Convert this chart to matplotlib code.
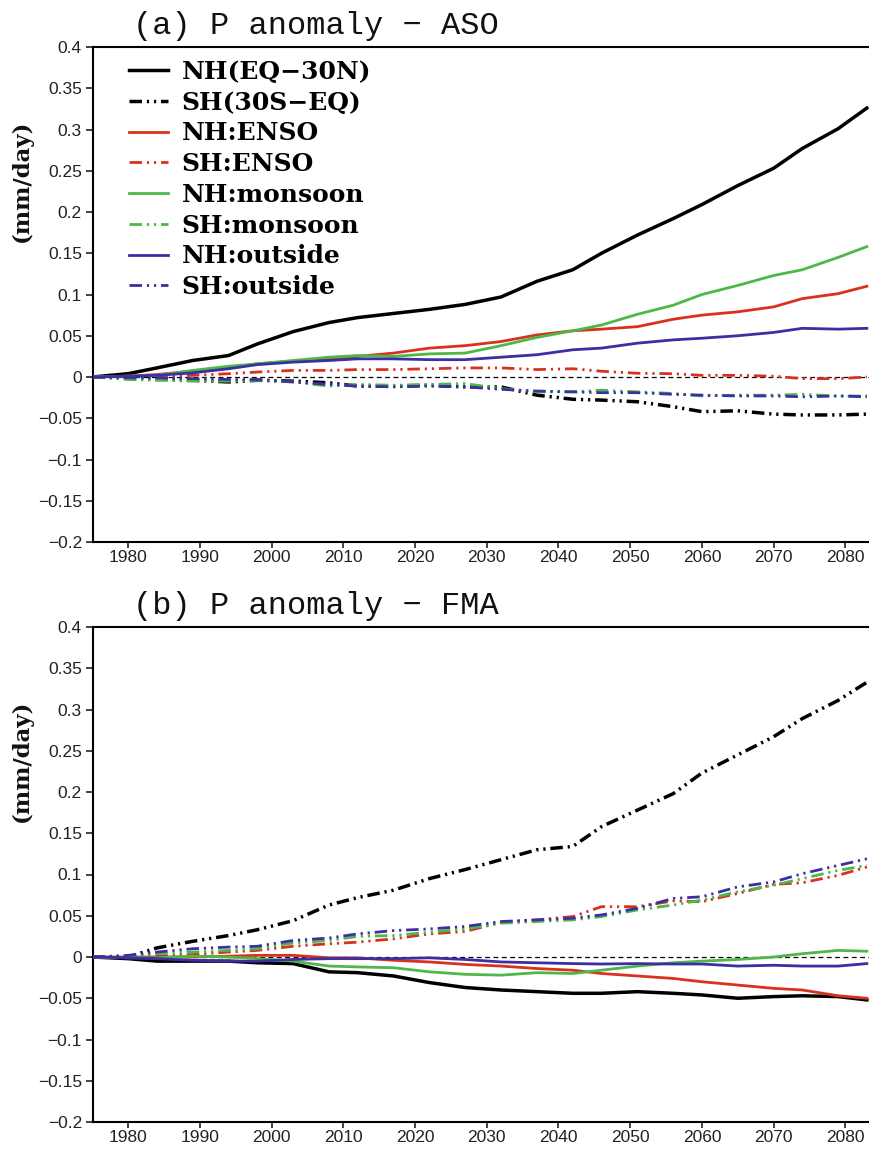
import matplotlib
matplotlib.use("Agg")
import matplotlib.pyplot as plt

plt.rcParams['lines.scale_dashes'] = False

# ---------------- data ----------------
years = [1975, 1980, 1984, 1989, 1994, 1998, 2003, 2008, 2012, 2017, 2022, 2027,
         2032, 2037, 2042, 2046, 2051, 2056, 2060, 2065, 2070, 2074, 2079, 2083]

# panel (a) ASO
a_nh_all   = [0, 0.004, 0.011, 0.020, 0.026, 0.040, 0.055, 0.066, 0.072, 0.077, 0.082, 0.088,
              0.097, 0.116, 0.130, 0.150, 0.172, 0.192, 0.209, 0.232, 0.253, 0.277, 0.301, 0.326]
a_sh_all   = [0, -0.001, -0.002, -0.004, -0.006, -0.004, -0.005, -0.007, -0.011, -0.011, -0.010, -0.012,
              -0.012, -0.022, -0.027, -0.028, -0.030, -0.036, -0.042, -0.041, -0.045, -0.046, -0.046, -0.045]
a_nh_enso  = [0, 0.001, 0.003, 0.007, 0.011, 0.016, 0.019, 0.022, 0.025, 0.029, 0.035, 0.038,
              0.043, 0.051, 0.056, 0.058, 0.061, 0.070, 0.075, 0.079, 0.085, 0.095, 0.101, 0.110]
a_sh_enso  = [0, 0.001, 0.001, 0.002, 0.004, 0.006, 0.008, 0.008, 0.009, 0.009, 0.010, 0.011,
              0.011, 0.009, 0.010, 0.007, 0.0045, 0.004, 0.002, 0.002, 0.001, -0.002, -0.002, 0.0]
a_nh_mons  = [0, 0.001, 0.002, 0.008, 0.013, 0.016, 0.020, 0.024, 0.026, 0.025, 0.028, 0.029,
              0.038, 0.048, 0.056, 0.063, 0.076, 0.087, 0.100, 0.111, 0.123, 0.130, 0.145, 0.158]
a_sh_mons  = [0, -0.003, -0.004, -0.005, -0.005, -0.004, -0.006, -0.011, -0.009, -0.010, -0.009, -0.008,
              -0.014, -0.018, -0.018, -0.016, -0.018, -0.020, -0.023, -0.022, -0.022, -0.021, -0.023, -0.023]
a_nh_out   = [0, 0.001, 0.002, 0.005, 0.010, 0.015, 0.018, 0.020, 0.022, 0.022, 0.021, 0.021,
              0.024, 0.027, 0.033, 0.035, 0.041, 0.045, 0.047, 0.050, 0.054, 0.059, 0.058, 0.059]
a_sh_out   = [0, -0.001, -0.001, -0.002, -0.003, -0.003, -0.006, -0.009, -0.011, -0.012, -0.011, -0.012,
              -0.015, -0.017, -0.018, -0.019, -0.019, -0.021, -0.022, -0.023, -0.023, -0.024, -0.023, -0.024]

# panel (b) FMA
b_nh_all   = [0, -0.002, -0.005, -0.005, -0.005, -0.007, -0.008, -0.018, -0.019, -0.023, -0.031, -0.037,
              -0.040, -0.042, -0.044, -0.044, -0.042, -0.044, -0.046, -0.050, -0.048, -0.047, -0.048, -0.052]
b_sh_all   = [0, 0.000, 0.011, 0.019, 0.026, 0.033, 0.044, 0.063, 0.072, 0.081, 0.095, 0.106,
              0.118, 0.130, 0.134, 0.158, 0.178, 0.198, 0.223, 0.245, 0.267, 0.289, 0.311, 0.333]
b_nh_enso  = [0, 0.0, 0.0, 0.0, 0.001, 0.002, 0.002, -0.001, -0.001, -0.004, -0.006, -0.009,
              -0.011, -0.014, -0.016, -0.020, -0.023, -0.026, -0.030, -0.034, -0.038, -0.040, -0.047, -0.050]
b_sh_enso  = [0, 0.0, 0.001, 0.003, 0.006, 0.008, 0.013, 0.016, 0.018, 0.022, 0.028, 0.031,
              0.042, 0.045, 0.049, 0.061, 0.061, 0.068, 0.067, 0.077, 0.088, 0.090, 0.099, 0.109]
b_nh_mons  = [0, -0.001, -0.001, 0.001, 0.0, -0.002, -0.005, -0.011, -0.012, -0.013, -0.018, -0.021,
              -0.022, -0.019, -0.020, -0.016, -0.011, -0.007, -0.005, -0.003, 0.000, 0.004, 0.008, 0.007]
b_sh_mons  = [0, 0.001, 0.004, 0.006, 0.008, 0.010, 0.017, 0.020, 0.025, 0.026, 0.030, 0.034,
              0.041, 0.043, 0.045, 0.049, 0.057, 0.063, 0.069, 0.079, 0.087, 0.095, 0.105, 0.111]
b_nh_out   = [0, -0.001, -0.002, -0.004, -0.005, -0.005, -0.003, -0.002, -0.002, -0.002, -0.001, -0.003,
              -0.006, -0.007, -0.008, -0.0085, -0.008, -0.0085, -0.0085, -0.011, -0.010, -0.011, -0.011, -0.008]
b_sh_out   = [0, 0.002, 0.006, 0.010, 0.012, 0.013, 0.020, 0.023, 0.028, 0.032, 0.034, 0.037,
              0.043, 0.045, 0.047, 0.051, 0.059, 0.071, 0.073, 0.085, 0.091, 0.101, 0.111, 0.119]

labels = ["NH(EQ\u221230N)", "SH(30S\u2212EQ)", "NH:ENSO", "SH:ENSO",
          "NH:monsoon", "SH:monsoon", "NH:outside", "SH:outside"]
titles = ["(a) P anomaly \u2212 ASO", "(b) P anomaly \u2212 FMA"]
xticks = [1980, 1990, 2000, 2010, 2020, 2030, 2040, 2050, 2060, 2070, 2080]
yticks = [0.4, 0.35, 0.3, 0.25, 0.2, 0.15, 0.1, 0.05, 0, -0.05, -0.1, -0.15, -0.2]
ytick_labels = ["0.4", "0.35", "0.3", "0.25", "0.2", "0.15", "0.1", "0.05", "0",
                "\u22120.05", "\u22120.1", "\u22120.15", "\u22120.2"]

panel_a = [a_nh_all, a_sh_all, a_nh_enso, a_sh_enso, a_nh_mons, a_sh_mons, a_nh_out, a_sh_out]
panel_b = [b_nh_all, b_sh_all, b_nh_enso, b_sh_enso, b_nh_mons, b_sh_mons, b_nh_out, b_sh_out]

# ---------------- style ----------------
colors = ['black', 'black', '#d8321e', '#d8321e', '#4db848', '#4db848', '#3b2fa3', '#3b2fa3']
widths = [2.5, 2.5, 2.0, 2.0, 2.0, 2.0, 2.0, 2.0]
dashdot = (0, (9, 3.5, 1.6, 3.5, 1.6, 3.5))
styles = ['-', dashdot] * 4

W, H = 869, 1149
fig = plt.figure(figsize=(W / 100, H / 100), dpi=100)

tick_font = dict(family=['Liberation Sans', 'DejaVu Sans'], size=12.5)

def make_panel(top_px, series, title, with_legend):
    left_px, bottom_px = 93, top_px + 495
    ax = fig.add_axes([left_px / W, 1 - bottom_px / H, 1 - left_px / W, 495 / H])
    ax.axhline(0, color='black', lw=0.9, ls=(0, (3.5, 2.5)), zorder=1)
    handles = []
    for s, c, w, st, lab in zip(series, colors, widths, styles, labels):
        ln, = ax.plot(years, s, color=c, lw=w, ls=st, label=lab, zorder=3,
                      solid_joinstyle='round')
        handles.append(ln)
    ax.set_xlim(1975.1, 2083.3)
    ax.set_ylim(-0.2, 0.4)
    ax.set_xticks(xticks)
    ax.set_xticklabels([str(t) for t in xticks], **tick_font, color='#222222')
    ax.set_yticks(yticks)
    ax.set_yticklabels(ytick_labels, **tick_font, color='#222222')
    ax.tick_params(axis='both', direction='out', length=5, width=1.2, pad=3, colors='#222222')
    ax.tick_params(axis='x', length=4, pad=1.5)
    ax.spines['right'].set_visible(False)
    for sp in ['top', 'left', 'bottom']:
        ax.spines[sp].set_linewidth(1.5)
    fig.text(133 / W, 1 - (top_px - 21) / H, title, ha='left', va='center',
             family=['Liberation Mono', 'DejaVu Sans Mono'], size=23, color='#111111')
    fig.text(22 / W, 1 - (top_px + 134) / H, "(mm/day)", rotation=90, ha='center', va='center',
             family='DejaVu Serif', weight='bold', size=16.5, color='#111111')
    if with_legend:
        ax.legend(handles=handles, loc='upper left', bbox_to_anchor=(0.0464, 0.974),
                  borderpad=0, borderaxespad=0, frameon=False, handlelength=1.55,
                  handletextpad=0.55, labelspacing=0.27,
                  prop=dict(family='DejaVu Serif', weight='bold', size=18))
    return ax

make_panel(47, panel_a, titles[0], True)
make_panel(627, panel_b, titles[1], False)

fig.savefig("out.png", dpi=100)
